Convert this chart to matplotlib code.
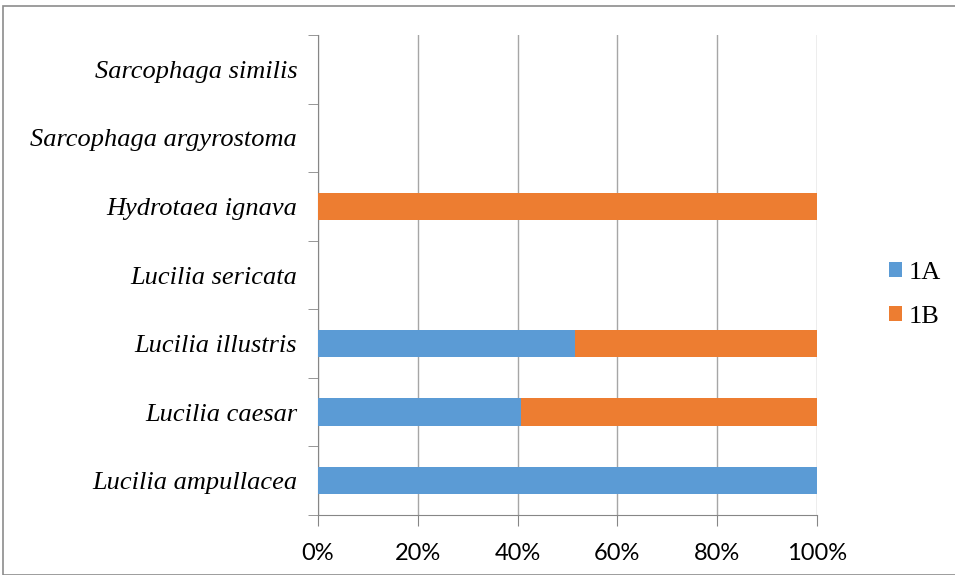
import numpy as np
import matplotlib.pyplot as plt
from matplotlib.patches import Rectangle

species = ["Lucilia ampullacea", "Lucilia caesar", "Lucilia illustris",
           "Lucilia sericata", "Hydrotaea ignava", "Sarcophaga argyrostoma",
           "Sarcophaga similis"]
share_1a = [1.00, 0.407, 0.515, 0.0, 0.0, 0.0, 0.0]
share_1b = [0.00, 0.593, 0.485, 0.0, 1.0, 0.0, 0.0]
xticks = [0, 0.2, 0.4, 0.6, 0.8, 1.0]
xlabels = ["0%", "20%", "40%", "60%", "80%", "100%"]

blue = "#5b9bd5"; orange = "#ed7d31"
axis_c = "#868686"; grid_c = "#a6a6a6"

fig = plt.figure(figsize=(9.55, 5.75), dpi=100)
fig.patches.append(Rectangle((3/955, 0), 1, 1 - 6/575, transform=fig.transFigure,
                             fill=False, edgecolor="#8c8c8c", lw=1.2))
ax = fig.add_axes([318/955, 1 - 515/575, (817 - 318)/955, (515 - 35)/575])

y = np.arange(len(species))
ax.barh(y, share_1a, height=0.4, color=blue, label="1A", zorder=3)
ax.barh(y, share_1b, left=share_1a, height=0.4, color=orange, label="1B", zorder=3)

ax.set_xlim(0, 1)
ax.set_ylim(-0.5, len(species) - 0.5)
ax.set_xticks(xticks)
ax.set_xticklabels(xlabels, fontfamily="Lato", fontsize=17)
ax.set_yticks(y)
ax.set_yticklabels(species, fontfamily="Liberation Serif", style="italic", fontsize=19)
ax.tick_params(axis="y", length=0, pad=15)
ax.tick_params(axis="x", length=8, color=axis_c, pad=12, direction="out")
ax.set_yticks(np.arange(len(species) + 1) - 0.5, minor=True)
ax.tick_params(axis="y", which="minor", length=7, color=axis_c)

ax.grid(axis="x", color=grid_c, lw=1, zorder=0)
for s in ["top", "right"]:
    ax.spines[s].set_visible(False)
ax.spines["left"].set_color(axis_c)
ax.spines["bottom"].set_color(axis_c)

fig.legend(loc="center left", bbox_to_anchor=(865/955, 1 - 295/575), frameon=False,
           prop={"family": "Liberation Serif", "size": 19}, handlelength=0.5,
           handleheight=0.5, labelspacing=0.84, handletextpad=0.27)

fig.savefig("out.png", dpi=100)
